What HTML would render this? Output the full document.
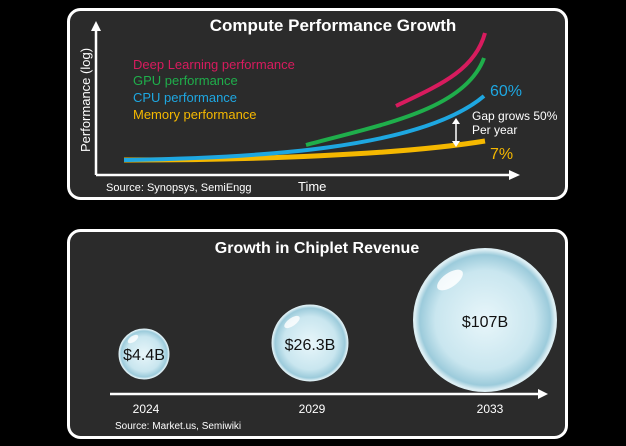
<!DOCTYPE html>
<html><head><style>
html,body{margin:0;padding:0;background:#000;width:626px;height:446px;overflow:hidden}
svg{display:block;font-family:"Liberation Sans",Arial,sans-serif}
</style></head><body>
<svg width="626" height="446" viewBox="0 0 626 446">
<defs>
<radialGradient id="bub" cx="50%" cy="50%" r="50%">
<stop offset="0" stop-color="#e8f6fa"/>
<stop offset="0.7" stop-color="#c9e6ef"/>
<stop offset="0.92" stop-color="#9ccbdb"/>
<stop offset="1" stop-color="#e6f3f7"/>
</radialGradient>
</defs>
<rect x="68.5" y="9.5" width="498" height="189" rx="12" fill="#2b2b2b" stroke="#fff" stroke-width="3"/>
<rect x="68.5" y="230.5" width="498" height="207" rx="12" fill="#2b2b2b" stroke="#fff" stroke-width="3"/>
<text x="333" y="31" fill="#fff" font-size="17" font-weight="bold" text-anchor="middle">Compute Performance Growth</text>
<line x1="96" y1="175" x2="96" y2="30" stroke="#fff" stroke-width="2.5"/>
<polygon points="96,21 91,31 101,31" fill="#fff"/>
<line x1="96" y1="175" x2="510" y2="175" stroke="#fff" stroke-width="2.5"/>
<polygon points="520,175 509,170 509,180" fill="#fff"/>
<text transform="translate(90,100) rotate(-90)" fill="#fff" font-size="13" text-anchor="middle">Performance (log)</text>
<text x="133" y="69" fill="#d81b5e" font-size="13">Deep Learning performance</text>
<text x="133" y="85" fill="#1fae4b" font-size="13">GPU performance</text>
<text x="133" y="102" fill="#1ea7e1" font-size="13">CPU performance</text>
<text x="133" y="119" fill="#f5b800" font-size="13">Memory performance</text>
<path d="M124,160 C250,160 400,155 485,141" stroke="#f5b800" stroke-width="5" fill="none"/>
<path d="M124,160 C250,158 420,150 484,96" stroke="#1ea7e1" stroke-width="4" fill="none"/>
<path d="M306,145 C380,125 465,110 484,58" stroke="#1fae4b" stroke-width="4" fill="none"/>
<path d="M396,106 C440,85 475,70 485,33" stroke="#d81b5e" stroke-width="4" fill="none"/>
<text x="490" y="96" fill="#1ea7e1" font-size="16">60%</text>
<text x="472" y="120" fill="#fff" font-size="12">Gap grows 50%</text>
<text x="472" y="134" fill="#fff" font-size="12">Per year</text>
<text x="490" y="159" fill="#f5b800" font-size="16">7%</text>
<line x1="456" y1="123" x2="456" y2="142" stroke="#fff" stroke-width="1.5"/>
<polygon points="456,118 452,124 460,124" fill="#fff"/>
<polygon points="456,147 452,141 460,141" fill="#fff"/>
<text x="106" y="191" fill="#fff" font-size="11">Source: Synopsys, SemiEngg</text>
<text x="298" y="191" fill="#fff" font-size="13">Time</text>

<text x="317" y="253" fill="#fff" font-size="16" font-weight="bold" text-anchor="middle">Growth in Chiplet Revenue</text>
<circle cx="144" cy="354" r="25" fill="url(#bub)" stroke="#dceef3" stroke-width="1"/>
<circle cx="310" cy="343" r="38" fill="url(#bub)" stroke="#dceef3" stroke-width="1"/>
<circle cx="485" cy="320" r="71" fill="url(#bub)" stroke="#dceef3" stroke-width="2"/>
<ellipse cx="133" cy="339" rx="6" ry="3" fill="#fff" opacity="0.8" transform="rotate(-35 133 339)"/>
<ellipse cx="292" cy="322" rx="9" ry="4" fill="#fff" opacity="0.8" transform="rotate(-35 292 322)"/>
<ellipse cx="450" cy="280" rx="15" ry="7" fill="#fff" opacity="0.85" transform="rotate(-35 450 280)"/>
<text x="144" y="360" fill="#111" font-size="16" text-anchor="middle">$4.4B</text>
<text x="310" y="350" fill="#111" font-size="16" text-anchor="middle">$26.3B</text>
<text x="485" y="327" fill="#111" font-size="16" text-anchor="middle">$107B</text>
<line x1="110" y1="394" x2="540" y2="394" stroke="#fff" stroke-width="2.5"/>
<polygon points="548,394 538,389 538,399" fill="#fff"/>
<text x="146" y="413" fill="#fff" font-size="12" text-anchor="middle">2024</text>
<text x="312" y="413" fill="#fff" font-size="12" text-anchor="middle">2029</text>
<text x="490" y="413" fill="#fff" font-size="12" text-anchor="middle">2033</text>
<text x="115" y="429" fill="#fff" font-size="10">Source: Market.us,  Semiwiki</text>
</svg>
</body></html>
